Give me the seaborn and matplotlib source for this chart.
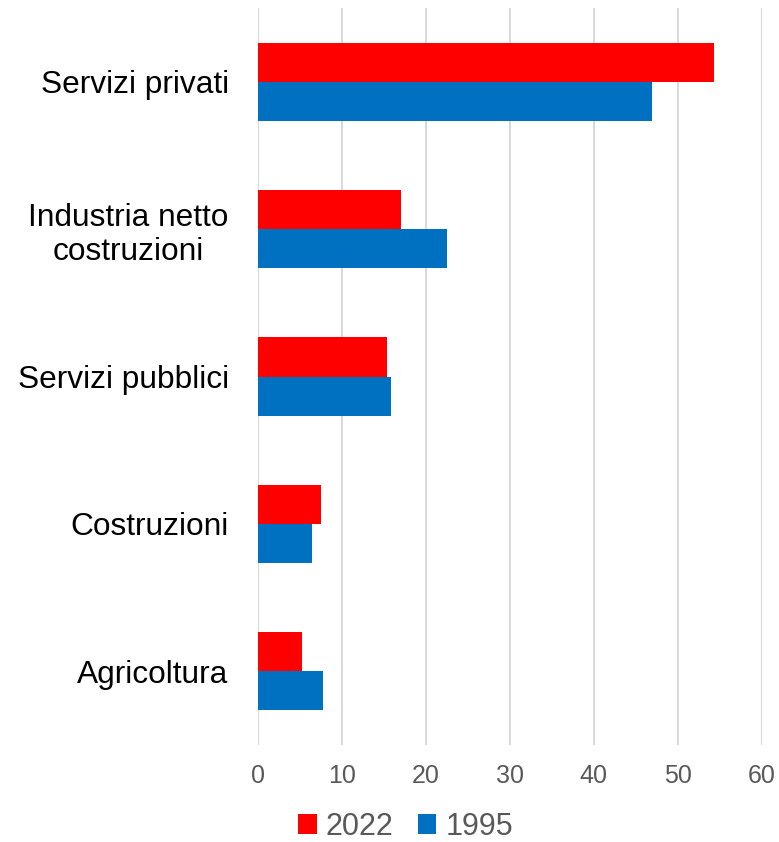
import matplotlib
matplotlib.use("Agg")
import matplotlib.pyplot as plt
import seaborn as sns
import pandas as pd
from matplotlib.patches import Patch

categories = ["Servizi privati", "Industria netto\ncostruzioni", "Servizi pubblici", "Costruzioni", "Agricoltura"]
values_2022 = [54.3, 17.0, 15.4, 7.5, 5.2]
values_1995 = [46.9, 22.5, 15.8, 6.5, 7.7]
series = ["2022", "1995"]
xticks = [0, 10, 20, 30, 40, 50, 60]

df = pd.DataFrame({
    "cat": categories * 2,
    "val": values_2022 + values_1995,
    "year": [series[0]] * len(categories) + [series[1]] * len(categories),
})

sns.set_style("white")
plt.rcParams["font.family"] = ["Liberation Sans", "DejaVu Sans"]

colors = {"2022": "#FF0000", "1995": "#0070C0"}

fig = plt.figure(figsize=(7.79, 8.42), dpi=100)
ax = fig.add_axes([0.331, 0.1152, 0.647, 0.8753])

sns.barplot(data=df, x="val", y="cat", hue="year", hue_order=series, order=categories,
            palette=colors, width=0.53, orient="h", ax=ax, legend=False,
            edgecolor="none", linewidth=0, saturation=1)

ax.set_xlim(0, 60)
ax.set_xticks(xticks)
ax.set_xticklabels([str(t) for t in xticks], fontsize=18, color="#595959")
ax.tick_params(axis="x", length=0, pad=14)
ax.tick_params(axis="y", length=0, pad=21, labelsize=22.8, labelcolor="black")
for lbl in ax.get_yticklabels():
    lbl.set_multialignment("center")
ax.set_xlabel("")
ax.set_ylabel("")
ax.grid(axis="x", color="#D9D9D9", linewidth=1.5)
ax.set_axisbelow(True)
for s in ax.spines.values():
    s.set_visible(False)

handles = [Patch(facecolor=colors[s], edgecolor="none") for s in series]
leg = fig.legend(handles, series, loc="center", bbox_to_anchor=(0.521, 0.018), ncol=2,
                 frameon=False, fontsize=22, handlelength=0.6, handleheight=0.6,
                 handletextpad=0.3, columnspacing=0.8)
for t in leg.get_texts():
    t.set_color("#595959")

fig.savefig("out.png", dpi=100)
